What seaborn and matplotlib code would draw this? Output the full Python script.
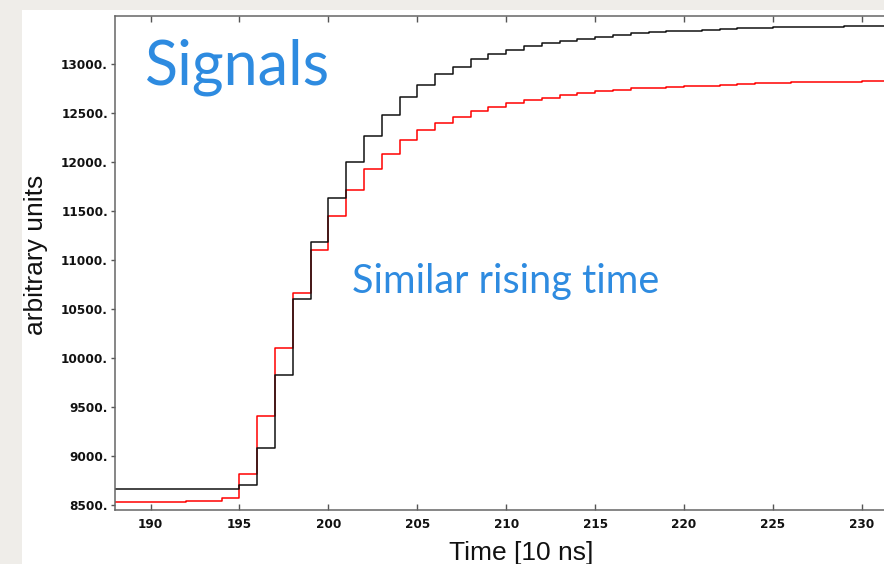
import numpy as np
import pandas as pd
import matplotlib
matplotlib.use("Agg")
import matplotlib.pyplot as plt
import seaborn as sns
from matplotlib.patches import Rectangle
from matplotlib.ticker import FuncFormatter, FixedLocator

# ---- data (bin start times, 10 ns units) ----
bin_start = list(range(188, 232))
black_vals = [8666, 8666, 8666, 8666, 8666, 8666, 8666,
              8710, 9088, 9830, 10602, 11184, 11639, 12000, 12265, 12486,
              12663, 12792, 12898, 12976, 13051, 13107, 13146, 13190, 13220,
              13241, 13261, 13279, 13299, 13316, 13327, 13340, 13340, 13350,
              13360, 13373, 13373, 13384, 13384, 13384, 13384, 13394, 13394,
              13394]
red_vals = [8537, 8537, 8537, 8537, 8547, 8547, 8575,
            8819, 9411, 10102, 10669, 11105, 11452, 11715, 11927, 12085,
            12228, 12333, 12404, 12462, 12523, 12562, 12605, 12633, 12656,
            12684, 12704, 12724, 12738, 12755, 12755, 12765, 12776, 12776,
            12786, 12799, 12812, 12812, 12819, 12819, 12819, 12819, 12830,
            12830]
x_ticks = [190, 195, 200, 205, 210, 215, 220, 225, 230]
y_ticks = [8500, 9000, 9500, 10000, 10500, 11000, 11500, 12000, 12500, 13000]

rows = []
for name, vals in (("red", red_vals), ("black", black_vals)):
    xs = bin_start + [bin_start[-1] + 1]
    ys = vals + [vals[-1]]
    for x, y in zip(xs, ys):
        rows.append({"t": x, "v": y, "series": name})
df = pd.DataFrame(rows)

sns.set_style("white")
plt.rcParams["font.family"] = ["Liberation Sans", "DejaVu Sans"]

W, H = 884, 564
fig = plt.figure(figsize=(W / 100, H / 100), dpi=100, facecolor="#efede9")
fig.patches.append(Rectangle((22 / W, 0), 1 - 22 / W, (H - 10) / H,
                             transform=fig.transFigure, facecolor="white",
                             edgecolor="none", zorder=-10))

ax = fig.add_axes([115 / W, (H - 510) / H, (W - 115) / W, (510 - 16) / H])
ax.set_zorder(1)
ax.set_facecolor("white")

sns.lineplot(data=df, x="t", y="v", hue="series", hue_order=["red", "black"],
             palette={"red": "#ff0000", "black": "#111111"},
             drawstyle="steps-post", linewidth=1.1, legend=False, ax=ax,
             estimator=None, sort=False)

ax.set_xlim(188, 231.24)
ax.set_ylim(8452, 13493)
ax.xaxis.set_major_locator(FixedLocator(x_ticks))
ax.yaxis.set_major_locator(FixedLocator(y_ticks))
ax.yaxis.set_major_formatter(FuncFormatter(lambda v, p: f"{int(v)}."))
ax.set_xlabel("")
ax.set_ylabel("")

for s in ("left", "bottom", "top"):
    ax.spines[s].set_color("#666666")
    ax.spines[s].set_linewidth(1.1)
ax.spines["right"].set_visible(False)

ax.tick_params(axis="x", which="major", direction="in", length=4, width=1,
               color="#555555", top=True, bottom=True, pad=6,
               labelsize=8.7, labelcolor="#111111")
ax.tick_params(axis="y", which="major", direction="out", length=3, width=1,
               color="#555555", left=True, pad=2, labelsize=8.7,
               labelcolor="#111111")
for lab in ax.get_xticklabels() + ax.get_yticklabels():
    lab.set_fontweight("bold")
    lab.set_family("DejaVu Sans")

fig.text(36 / W, (H - 255) / H, "arbitrary units", rotation=90,
         ha="center", va="center", fontsize=19, color="#111111")
fig.text(521 / W, 4 / H, "Time [10 ns]", ha="center", va="baseline",
         fontsize=19, color="#111111")

blue = "#2e8be0"
fig.text(145 / W, (H - 85) / H, "Signals", ha="left", va="baseline",
         fontsize=44, color=blue, family=["Lato", "DejaVu Sans"], zorder=5)
fig.text(352 / W, (H - 293) / H, "Similar rising time", ha="left",
         va="baseline", fontsize=28.5, color=blue,
         family=["Lato", "DejaVu Sans"], zorder=5)

fig.savefig("out.png", dpi=100, facecolor=fig.get_facecolor())
